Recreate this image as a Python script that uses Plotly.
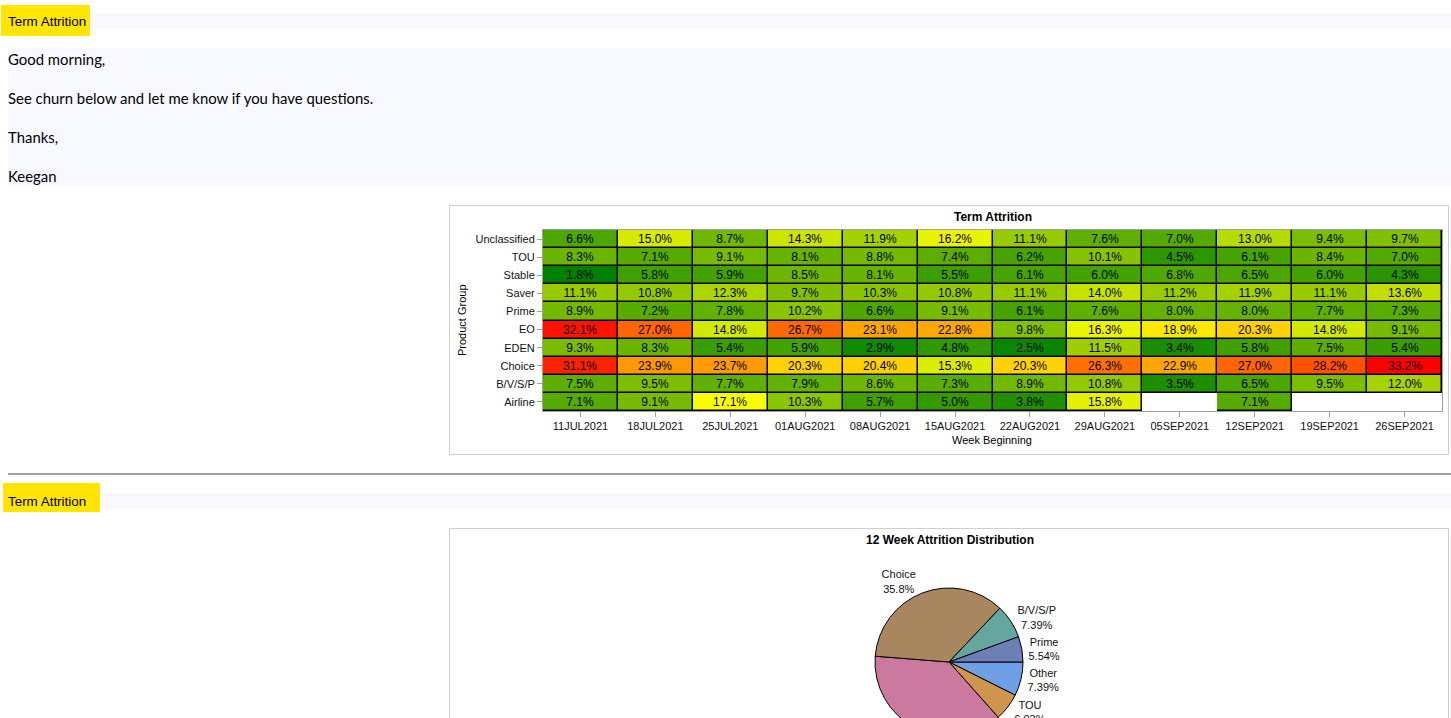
import plotly.graph_objects as go

W, H = 1451, 760

# ---------------- data ----------------
weeks = ["11JUL2021", "18JUL2021", "25JUL2021", "01AUG2021", "08AUG2021", "15AUG2021",
         "22AUG2021", "29AUG2021", "05SEP2021", "12SEP2021", "19SEP2021", "26SEP2021"]
groups = ["Airline", "B/V/S/P", "Choice", "EDEN", "EO", "Prime", "Saver", "Stable", "TOU", "Unclassified"]

airline = [7.1, 9.1, 17.1, 10.3, 5.7, 5.0, 3.8, 15.8, None, 7.1, None, None]
bvsp = [7.5, 9.5, 7.7, 7.9, 8.6, 7.3, 8.9, 10.8, 3.5, 6.5, 9.5, 12.0]
choice = [31.1, 23.9, 23.7, 20.3, 20.4, 15.3, 20.3, 26.3, 22.9, 27.0, 28.2, 33.2]
eden = [9.3, 8.3, 5.4, 5.9, 2.9, 4.8, 2.5, 11.5, 3.4, 5.8, 7.5, 5.4]
eo = [32.1, 27.0, 14.8, 26.7, 23.1, 22.8, 9.8, 16.3, 18.9, 20.3, 14.8, 9.1]
prime = [8.9, 7.2, 7.8, 10.2, 6.6, 9.1, 6.1, 7.6, 8.0, 8.0, 7.7, 7.3]
saver = [11.1, 10.8, 12.3, 9.7, 10.3, 10.8, 11.1, 14.0, 11.2, 11.9, 11.1, 13.6]
stable = [1.8, 5.8, 5.9, 8.5, 8.1, 5.5, 6.1, 6.0, 6.8, 6.5, 6.0, 4.3]
tou = [8.3, 7.1, 9.1, 8.1, 8.8, 7.4, 6.2, 10.1, 4.5, 6.1, 8.4, 7.0]
unclassified = [6.6, 15.0, 8.7, 14.3, 11.9, 16.2, 11.1, 7.6, 7.0, 13.0, 9.4, 9.7]

# pie slices, clockwise from 3 o'clock
pie_labels = ["Other", "TOU", "EO", "Choice", "B/V/S/P", "Prime"]
pie_values = [7.39, 6.03, 37.8, 35.8, 7.39, 5.54]
pie_colors = ["#6fa0e6", "#cf944d", "#cc799f", "#a88660", "#66a6a0", "#6e7fb5"]

email_lines = ["Good morning,", "See churn below and let me know if you have questions.", "Thanks,", "Keegan"]

# ---------------- helpers ----------------
def fx(x):
    return x / W

def fy(y):
    return 1 - y / H

CHART_FONT = "Liberation Sans, Arial, sans-serif"
MAIL_FONT = "Lato, Calibri, sans-serif"

z = [airline, bvsp, choice, eden, eo, prime, saver, stable, tou, unclassified]
mask = [[1 if v is not None else None for v in row] for row in z]
cell_text = [[("%.1f%%" % v) if v is not None else "" for v in row] for row in z]

fig = go.Figure()

# black underlay (cell borders only where cells exist)
fig.add_trace(go.Heatmap(
    x=weeks, y=groups, z=mask,
    colorscale=[[0, "black"], [1, "black"]], showscale=False,
    hoverinfo="skip",
))
fig.add_trace(go.Heatmap(
    x=weeks, y=groups, z=z, text=cell_text,
    colorscale=[[0, "#008000"], [0.5, "#ffff00"], [1, "#ff0000"]],
    showscale=False, xgap=1.5, ygap=1.5,
    texttemplate="%{text}",
    textfont=dict(family=CHART_FONT, size=12, color="black"),
    hovertemplate="%{y} %{x}: %{z:.1f}%<extra></extra>",
))

fig.add_trace(go.Pie(
    labels=pie_labels, values=pie_values, sort=False,
    direction="clockwise", rotation=90,
    marker=dict(colors=pie_colors, line=dict(color="black", width=1)),
    textposition="outside",
    texttemplate="%{label}<br>%{value}%",
    textfont=dict(family=CHART_FONT, size=11, color="#111"),
    domain=dict(x=[fx(875), fx(1023)], y=[fy(736), fy(588)]),
    showlegend=False,
))

shapes = []
annotations = []

def rect(x0, y0, x1, y1, fill):
    shapes.append(dict(type="rect", xref="paper", yref="paper",
                       x0=fx(x0), x1=fx(x1), y0=fy(y1), y1=fy(y0),
                       fillcolor=fill, line=dict(color=fill, width=0), layer="below"))

def text(x, y, s, size, family, xanchor="left", color="black", angle=0):
    annotations.append(dict(xref="paper", yref="paper", x=fx(x), y=fy(y), text=s,
                            showarrow=False, xanchor=xanchor, yanchor="middle",
                            textangle=angle,
                            font=dict(family=family, size=size, color=color)))

BAND = "#f7f9fe"
YELLOW = "#ffe600"

# header 1
rect(90, 13, 1451, 29, BAND)
rect(1, 5, 90, 36, YELLOW)
text(6, 21, "Term Attrition", 13.4, CHART_FONT)

# email body
rect(8, 48, 1451, 186, BAND)
for i, line in enumerate(email_lines):
    text(6, 59 + 39 * i, line, 14.9, MAIL_FONT)

# heatmap chart frame
shapes.append(dict(type="rect", xref="paper", yref="paper", x0=fx(449.5), x1=fx(1448.5),
                   y0=fy(454.5), y1=fy(205.5), line=dict(color="#d0d0d0", width=1),
                   fillcolor="rgba(0,0,0,0)", layer="below"))
text(993, 217, "<b>Term Attrition</b>", 12, CHART_FONT, xanchor="center")
text(992, 440, "Week Beginning", 11, CHART_FONT, xanchor="center")
text(462, 320, "Product Group", 11, CHART_FONT, xanchor="center", angle=-90)

# separator
shapes.append(dict(type="line", xref="paper", yref="paper", x0=fx(8), x1=fx(1451),
                   y0=fy(474), y1=fy(474), line=dict(color="#a0a0a0", width=2)))

# header 2
rect(100, 493, 1451, 509, BAND)
rect(3, 483, 100, 512, YELLOW)
text(6, 501, "Term Attrition", 13.4, CHART_FONT)

# pie chart frame
shapes.append(dict(type="rect", xref="paper", yref="paper", x0=fx(449.5), x1=fx(1448.5),
                   y0=fy(759), y1=fy(528.5), line=dict(color="#d0d0d0", width=1),
                   fillcolor="rgba(0,0,0,0)", layer="below"))
text(950, 540, "<b>12 Week Attrition Distribution</b>", 12, CHART_FONT, xanchor="center")

axis_common = dict(showline=True, linecolor="#a0a0a0", linewidth=1, mirror=True,
                   ticks="outside", ticklen=5, tickcolor="#a0a0a0",
                   tickfont=dict(family=CHART_FONT, size=11, color="#111"),
                   showgrid=False, zeroline=False, fixedrange=True)

fig.update_layout(
    width=W, height=H,
    margin=dict(l=0, r=0, t=0, b=0),
    paper_bgcolor="white", plot_bgcolor="white",
    xaxis=dict(domain=[fx(543), fx(1442)], type="category", **axis_common),
    yaxis=dict(domain=[fy(411), fy(230)], type="category", **axis_common),
    shapes=shapes, annotations=annotations,
    showlegend=False,
)

fig.write_html("out.html")
